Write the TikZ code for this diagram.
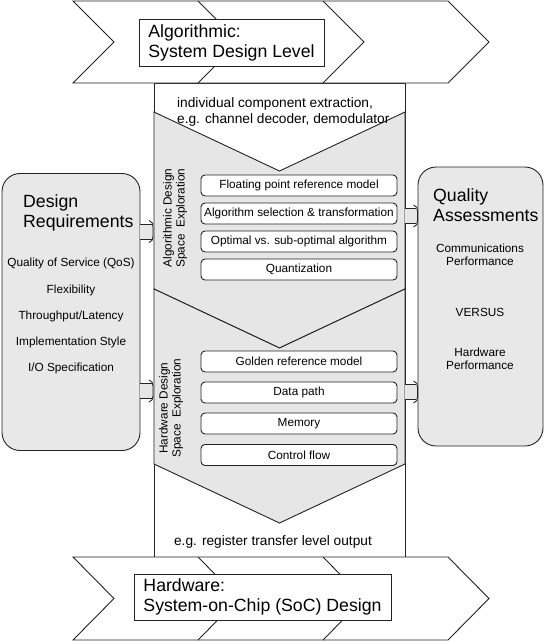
\documentclass[tikz,border=0pt]{standalone}
\usepackage{fontspec}
\setmainfont{Liberation Sans}
\definecolor{lineC}{RGB}{35,35,35}
\definecolor{lightg}{RGB}{230,230,230}
\definecolor{sideg}{RGB}{232,232,232}
\newcommand{\bigf}{\fontsize{17.7}{20}\selectfont}
\newcommand{\midf}{\fontsize{13.7}{16}\selectfont}
\newcommand{\smallf}{\fontsize{11.8}{13}\selectfont}
\tikzset{
  ln/.style={draw=lineC, line width=0.9pt, line join=miter},
  stepbox/.style={ln, fill=white, rounded corners=4pt, minimum width=196, minimum height=21, inner sep=0pt, font=\smallf},
  sidebox/.style={ln, fill=sideg, rounded corners=18pt, inner sep=0pt},
  titlebox/.style={ln, fill=white, inner sep=0pt, align=left, font=\bigf},
  txt/.style={inner sep=0pt, font=\smallf, align=center},
  arrfill/.style={fill=lightg}
}
% block arrow: x start, x end, y (pixel coordinates)
\newcommand{\blockarr}[3]{%
  \fill[arrfill] (#1,#3-7.5) rectangle (#2-1.5,#3+7.5);
  \draw[ln] (#1,#3-7.5) -- (#2-2.5,#3-7.5);
  \draw[ln] (#1,#3+7.5) -- (#2-2.5,#3+7.5);
  \draw[ln] (#2-5,#3-11) .. controls (#2-2,#3-10) and (#2-1,#3-8) .. (#2-1,#3-5)
     -- (#2-1,#3+5) .. controls (#2-1,#3+8) and (#2-2,#3+10) .. (#2-5,#3+11);
}
\begin{document}
\begin{tikzpicture}[x=1pt,y=-1pt]
\useasboundingbox (0,0) rectangle (545,641);
\fill[white] (0,0) rectangle (545,641);

% central column
\draw[ln, fill=white] (154,83) rectangle (405,557);
\draw[ln, fill=lightg] (154,112) -- (279.5,171) -- (405,112) -- (405,289) -- (279.5,348) -- (154,289) -- cycle;
\draw[ln, fill=lightg] (154,289) -- (279.5,348) -- (405,289) -- (405,464) -- (279.5,523) -- (154,464) -- cycle;

% top chevron band
\draw[ln, fill=white] (73,1) -- (448,1) -- (489,42) -- (448,83) -- (73,83) -- (114,42) -- cycle;
\draw[ln] (198,1) -- (239,42) -- (198,83);
\draw[ln] (323,1) -- (364,42) -- (323,83);
\node[titlebox, minimum width=185, minimum height=47] (top) at (231.5,42.5) {Algorithmic:\\System Design Level};

% bottom chevron band
\draw[ln, fill=white] (73,557) -- (448,557) -- (489,598.5) -- (448,640) -- (73,640) -- (114,598.5) -- cycle;
\draw[ln] (198,557) -- (239,598.5) -- (198,640);
\draw[ln] (323,557) -- (364,598.5) -- (323,640);
\node[titlebox, minimum width=257, minimum height=46] (bottom) at (262.5,597) {Hardware:\\System-on-Chip (SoC) Design};

% column texts
\node[txt, font=\midf, align=left, anchor=west] (extract) at (177,112) {individual component extraction,\\e.g. channel decoder, demodulator};
\node[txt, font=\midf] (rtl) at (273,542) {e.g. register transfer level output};

\node[txt, rotate=90] (alabel) at (175,218) {Algorithmic Design\\Space\ \ Exploration};
\node[txt, rotate=90] (hlabel) at (171,408) {Hardware Design\\Space\ \ Exploration};

\node[stepbox] (a1) at (299,185.5) {Floating point reference model};
\node[stepbox] (a2) at (299,213.5) {Algorithm selection \& transformation};
\node[stepbox] (a3) at (299,241.5) {Optimal vs. sub-optimal algorithm};
\node[stepbox] (a4) at (299,269.5) {Quantization};

\node[stepbox] (h1) at (299,361.5) {Golden reference model};
\node[stepbox] (h2) at (299,392.5) {Data path};
\node[stepbox] (h3) at (299,423.5) {Memory};
\node[stepbox] (h4) at (299,455) {Control flow};

% left box
\node[sidebox, minimum width=138, minimum height=277] (req) at (71,312) {};
\node[txt, font=\bigf, align=left, anchor=west] (reqt) at (23,213) {Design\\Requirements};
\node[txt] (r1) at (71,263) {Quality of Service (QoS)};
\node[txt] (r2) at (71,290) {Flexibility};
\node[txt] (r3) at (71,316) {Throughput/Latency};
\node[txt] (r4) at (71,342) {Implementation Style};
\node[txt] (r5) at (71,368) {I/O Specification};

% right box
\node[sidebox, minimum width=125, minimum height=279] (qa) at (480.5,306.5) {};
\node[txt, font=\bigf, align=left, anchor=west] (qat) at (433,205) {Quality\\Assessments};
\node[txt] (q1) at (480,254.5) {Communications\\Performance};
\node[txt] (q2) at (480,312) {VERSUS};
\node[txt] (q3) at (480,358.5) {Hardware\\Performance};

% block arrows
\blockarr{140}{154}{231.5}
\blockarr{140}{154}{391}
\blockarr{405}{418.5}{216}
\blockarr{405}{418.5}{392}
\end{tikzpicture}
\end{document}
